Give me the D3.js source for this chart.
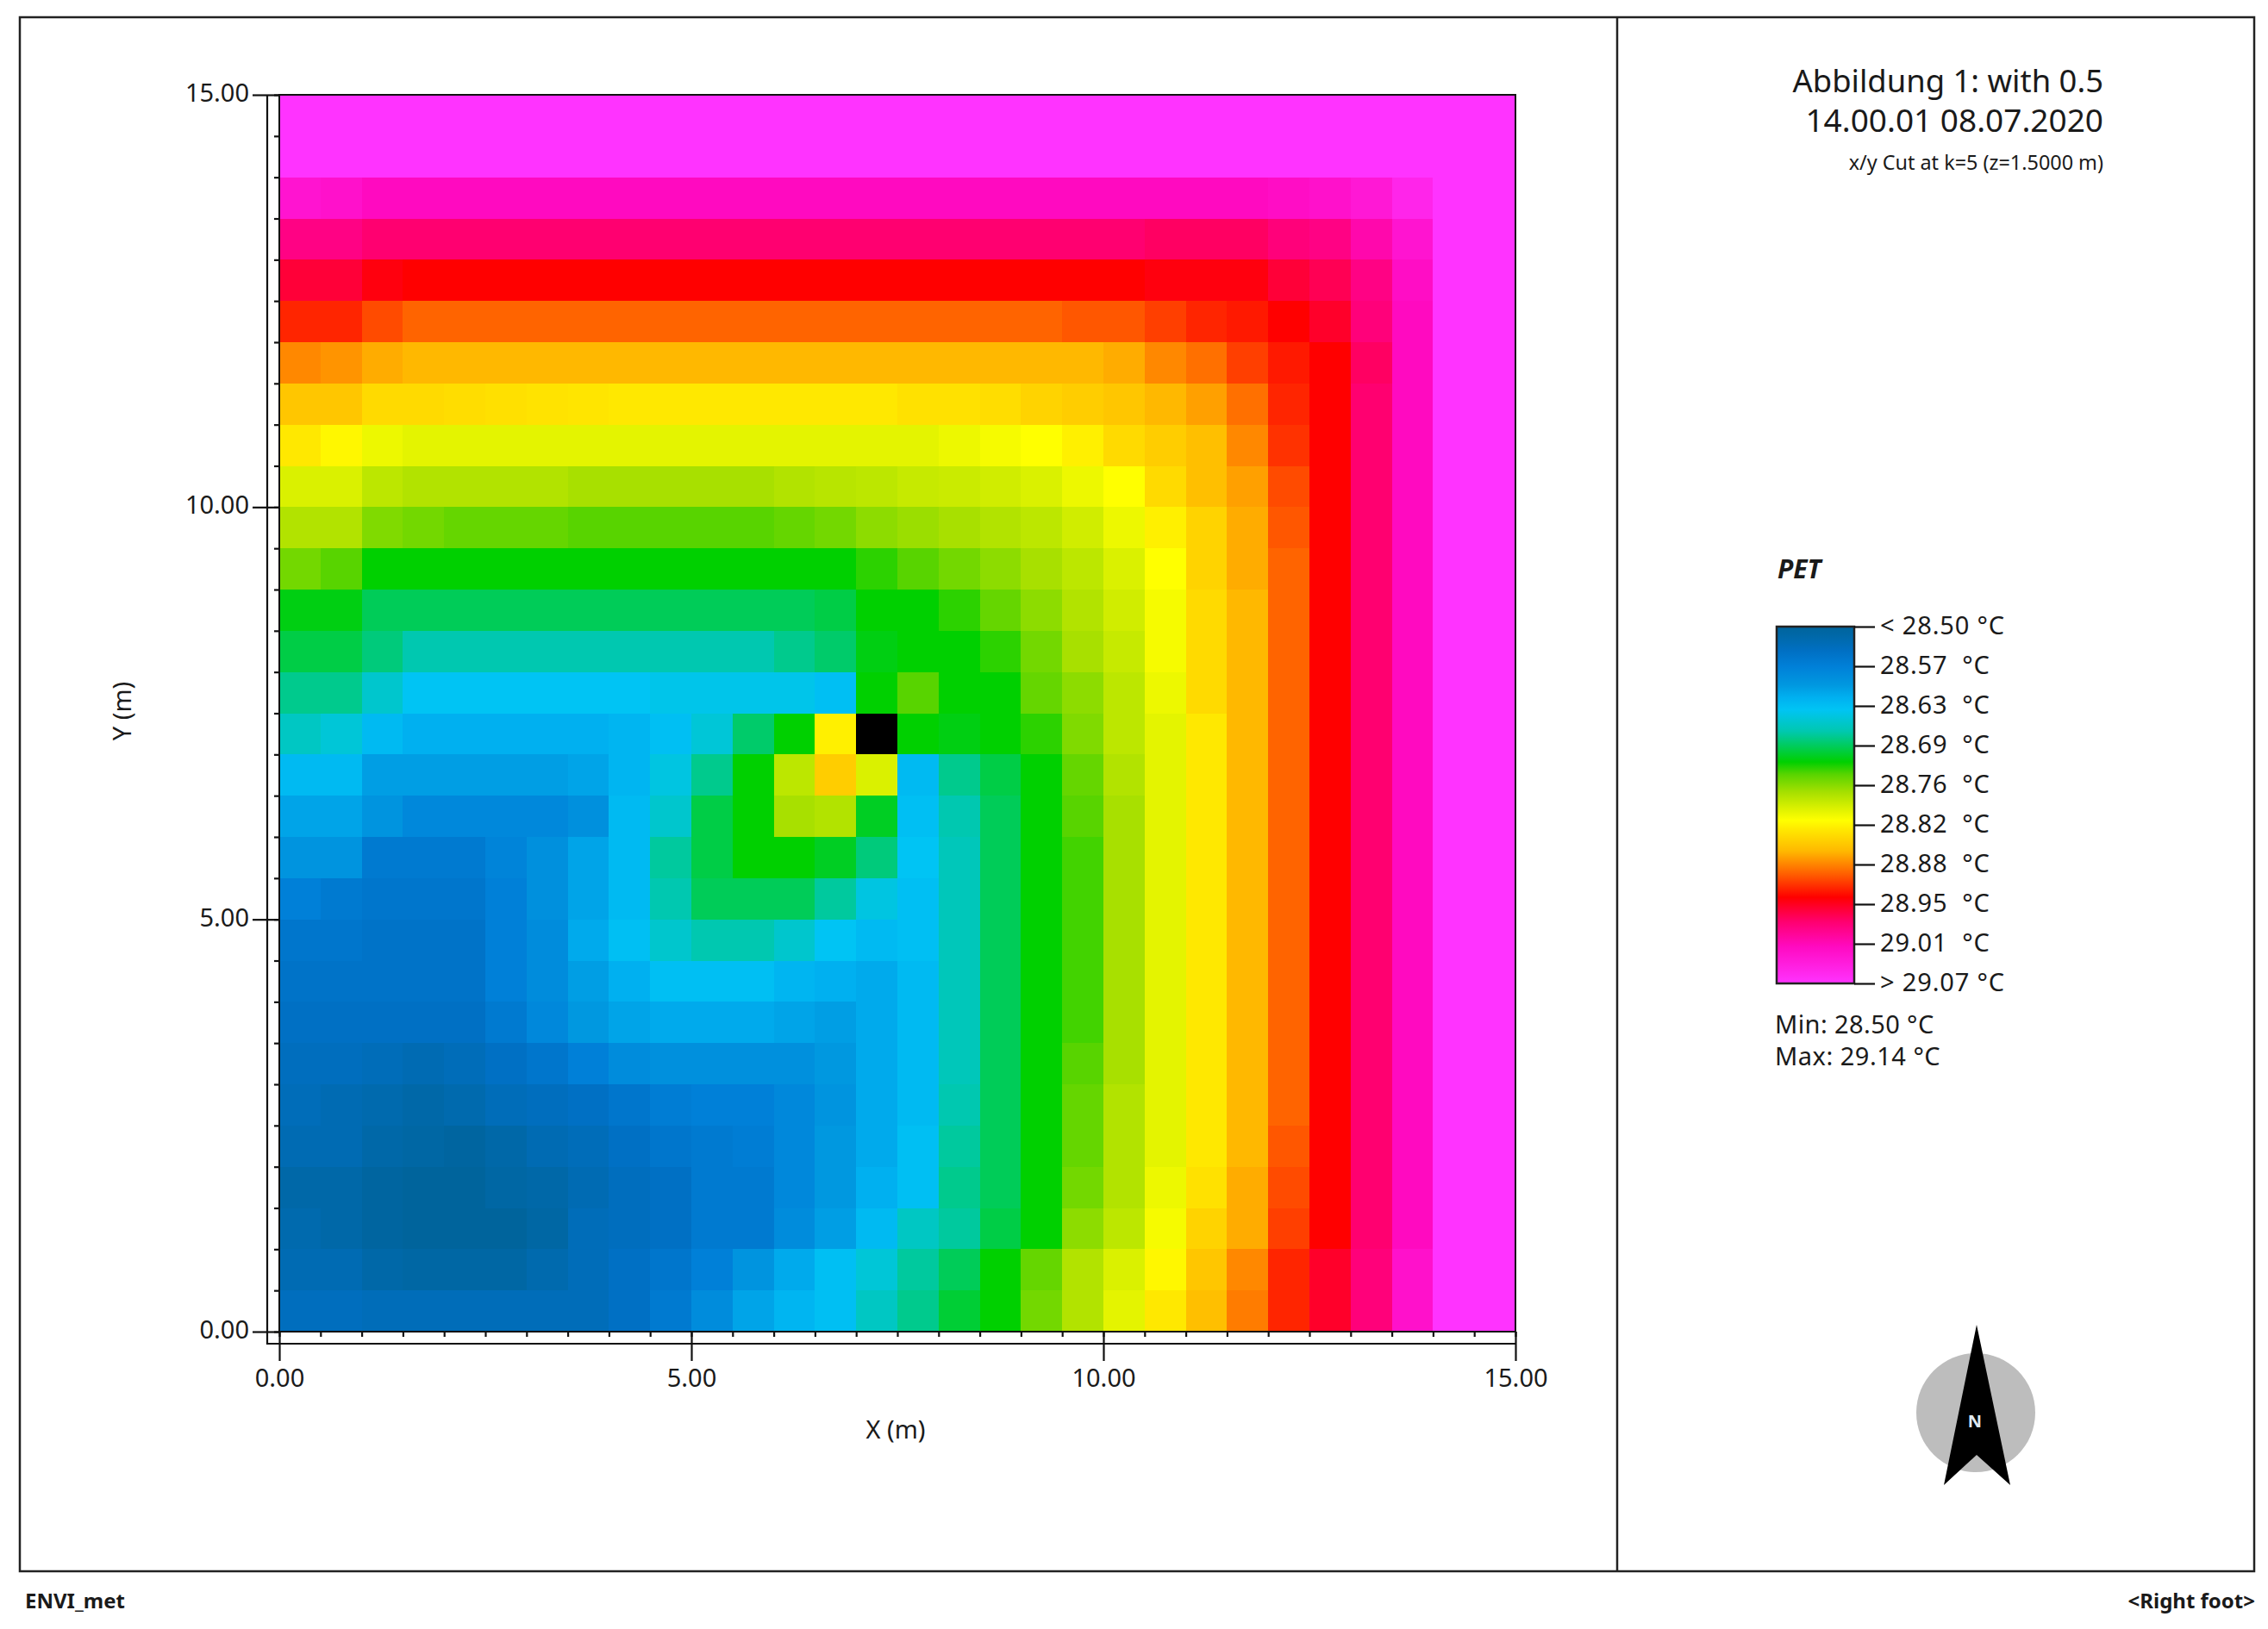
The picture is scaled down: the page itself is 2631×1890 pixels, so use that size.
<!DOCTYPE html>
<html>
<head>
  <title>PET - x/y cut</title>
  <script src="https://d3js.org/d3.v7.min.js"></script>
  <style>
  body { margin: 0; background: #fff; }
  svg { display: block; }
  text { font-family: "Noto Sans", sans-serif; fill: #1a1a1a; }
  </style>
</head>
<body>
  <div id="chart"></div>
  <script>
    // tick labels
    var majorTicks = [0, 5, 10, 15];
    var minorTicks = d3.range(0, 15.01, 0.5);
    var legendLabels = ["< 28.50 °C", "28.57  °C", "28.63  °C", "28.69  °C", "28.76  °C",
                        "28.82  °C", "28.88  °C", "28.95  °C", "29.01  °C", "> 29.07 °C"];

    // colour ramp of the legend
    var rampValues = [28.50, 28.515, 28.54, 28.565, 28.595, 28.615, 28.635, 28.67, 28.695, 28.72,
                      28.74, 28.77, 28.80, 28.815, 28.83, 28.865, 28.90, 28.94, 28.98, 29.02, 29.08];
    var rampColors = ["#00649c", "#0068a8", "#0070c4", "#0080d8", "#0098e0", "#00b0f0", "#00c4f4",
                      "#00c8b0", "#00cc58", "#00d000", "#58d400", "#a8e000", "#e4f400", "#ffff00",
                      "#ffe800", "#ffb800", "#ff6400", "#ff0000", "#ff0070", "#ff0ac0", "#ff33ff"];

    // PET per cell, top row (y = 15) first, left column first; null = no value (black cell)
    var pet = [
      [29.08,29.08,29.08,29.08,29.08, 29.08,29.08,29.08,29.08,29.08, 29.08,29.08,29.08,29.08,29.08, 29.08,29.08,29.08,29.08,29.08, 29.08,29.08,29.08,29.08,29.08, 29.08,29.08,29.08,29.08,29.08],
      [29.08,29.08,29.08,29.08,29.08, 29.08,29.08,29.08,29.08,29.08, 29.08,29.08,29.08,29.08,29.08, 29.08,29.08,29.08,29.08,29.08, 29.08,29.08,29.08,29.08,29.08, 29.08,29.08,29.08,29.08,29.08],
      [29.035,29.03,29.02,29.02,29.02, 29.02,29.02,29.02,29.02,29.02, 29.02,29.02,29.02,29.02,29.02, 29.02,29.02,29.02,29.02,29.02, 29.02,29.02,29.02,29.02,29.025, 29.03,29.04,29.06,29.08,29.08],
      [28.99,28.99,28.98,28.98,28.98, 28.98,28.98,28.98,28.98,28.98, 28.98,28.98,28.98,28.98,28.98, 28.98,28.98,28.98,28.98,28.98, 28.98,28.975,28.975,28.975,28.985, 28.99,29.01,29.035,29.08,29.08],
      [28.96,28.96,28.945,28.94,28.94, 28.94,28.94,28.94,28.94,28.94, 28.94,28.94,28.94,28.94,28.94, 28.94,28.94,28.94,28.94,28.94, 28.94,28.945,28.945,28.945,28.96, 28.97,28.99,29.025,29.08,29.08],
      [28.925,28.925,28.91,28.90,28.90, 28.90,28.90,28.90,28.90,28.90, 28.90,28.90,28.90,28.90,28.90, 28.90,28.90,28.90,28.90,28.905, 28.905,28.915,28.925,28.93,28.94, 28.955,28.985,29.02,29.08,29.08],
      [28.885,28.88,28.87,28.865,28.865, 28.865,28.865,28.865,28.865,28.865, 28.865,28.865,28.865,28.865,28.865, 28.865,28.865,28.865,28.865,28.865, 28.87,28.885,28.895,28.915,28.93, 28.94,28.975,29.02,29.08,29.08],
      [28.855,28.855,28.84,28.84,28.838, 28.836,28.834,28.832,28.83,28.83, 28.83,28.83,28.83,28.83,28.83, 28.835,28.835,28.838,28.845,28.85, 28.855,28.865,28.875,28.895,28.925, 28.94,28.98,29.02,29.08,29.08],
      [28.83,28.82,28.805,28.80,28.80, 28.80,28.80,28.80,28.80,28.80, 28.80,28.80,28.80,28.80,28.80, 28.80,28.805,28.81,28.815,28.825, 28.84,28.85,28.86,28.885,28.92, 28.94,28.98,29.02,29.08,29.08],
      [28.795,28.795,28.78,28.775,28.775, 28.775,28.775,28.77,28.77,28.77, 28.77,28.77,28.775,28.778,28.78, 28.785,28.787,28.79,28.795,28.805, 28.815,28.84,28.86,28.875,28.91, 28.94,28.98,29.02,29.08,29.08],
      [28.775,28.775,28.755,28.75,28.745, 28.745,28.745,28.74,28.74,28.74, 28.74,28.74,28.745,28.75,28.76, 28.765,28.77,28.775,28.78,28.79, 28.805,28.825,28.845,28.87,28.905, 28.94,28.98,29.02,29.08,29.08],
      [28.75,28.74,28.72,28.72,28.72, 28.72,28.72,28.72,28.72,28.72, 28.72,28.72,28.72,28.72,28.73, 28.74,28.75,28.76,28.77,28.78, 28.795,28.815,28.845,28.87,28.90, 28.94,28.98,29.02,29.08,29.08],
      [28.715,28.715,28.695,28.695,28.695, 28.695,28.695,28.695,28.695,28.695, 28.695,28.695,28.695,28.70,28.72, 28.72,28.73,28.745,28.76,28.775, 28.79,28.81,28.84,28.865,28.90, 28.94,28.98,29.02,29.08,29.08],
      [28.70,28.70,28.685,28.67,28.67, 28.67,28.67,28.67,28.67,28.67, 28.67,28.67,28.68,28.69,28.715, 28.72,28.72,28.73,28.75,28.77, 28.785,28.81,28.84,28.865,28.90, 28.94,28.98,29.02,29.08,29.08],
      [28.68,28.68,28.655,28.635,28.635, 28.635,28.635,28.635,28.635,28.64, 28.64,28.64,28.64,28.63,28.72, 28.74,28.72,28.72,28.745,28.76, 28.78,28.805,28.84,28.865,28.90, 28.94,28.98,29.02,29.08,29.08],
      [28.66,28.65,28.625,28.615,28.615, 28.615,28.615,28.615,28.62,28.63, 28.65,28.69,28.72,28.825,null, 28.72,28.715,28.72,28.73,28.755, 28.78,28.80,28.83,28.865,28.90, 28.94,28.98,29.02,29.08,29.08],
      [28.625,28.625,28.60,28.60,28.60, 28.60,28.60,28.605,28.62,28.645, 28.68,28.72,28.78,28.85,28.795, 28.625,28.68,28.70,28.72,28.745, 28.775,28.80,28.83,28.865,28.90, 28.94,28.98,29.02,29.08,29.08],
      [28.605,28.605,28.59,28.575,28.575, 28.575,28.575,28.585,28.625,28.655, 28.70,28.72,28.77,28.775,28.71, 28.63,28.67,28.695,28.72,28.74, 28.77,28.80,28.83,28.865,28.90, 28.94,28.98,29.02,29.08,29.08],
      [28.59,28.59,28.555,28.555,28.555, 28.57,28.585,28.605,28.625,28.675, 28.70,28.72,28.72,28.71,28.685, 28.635,28.665,28.695,28.72,28.735, 28.77,28.80,28.83,28.865,28.90, 28.94,28.98,29.02,29.08,29.08],
      [28.565,28.555,28.55,28.55,28.55, 28.565,28.585,28.605,28.625,28.67, 28.695,28.695,28.695,28.675,28.645, 28.63,28.665,28.695,28.72,28.735, 28.77,28.80,28.83,28.865,28.90, 28.94,28.98,29.02,29.08,29.08],
      [28.55,28.55,28.545,28.545,28.545, 28.565,28.58,28.61,28.63,28.655, 28.67,28.67,28.655,28.635,28.625, 28.63,28.665,28.695,28.72,28.735, 28.77,28.80,28.83,28.865,28.90, 28.94,28.98,29.02,29.08,29.08],
      [28.545,28.545,28.545,28.545,28.545, 28.565,28.58,28.60,28.615,28.63, 28.63,28.63,28.62,28.615,28.61, 28.625,28.665,28.695,28.72,28.735, 28.77,28.80,28.83,28.865,28.90, 28.94,28.98,29.02,29.08,29.08],
      [28.54,28.54,28.54,28.54,28.54, 28.555,28.575,28.595,28.605,28.61, 28.61,28.61,28.605,28.60,28.61, 28.625,28.665,28.695,28.72,28.735, 28.77,28.80,28.83,28.865,28.90, 28.94,28.98,29.02,29.08,29.08],
      [28.535,28.535,28.53,28.525,28.53, 28.54,28.55,28.565,28.58,28.585, 28.585,28.585,28.585,28.595,28.61, 28.625,28.665,28.695,28.72,28.74, 28.77,28.80,28.83,28.865,28.90, 28.94,28.98,29.02,29.08,29.08],
      [28.53,28.525,28.52,28.515,28.52, 28.53,28.535,28.54,28.55,28.56, 28.565,28.565,28.575,28.59,28.61, 28.625,28.67,28.695,28.72,28.745, 28.775,28.80,28.83,28.865,28.90, 28.94,28.98,29.02,29.08,29.08],
      [28.525,28.525,28.515,28.51,28.505, 28.515,28.525,28.53,28.54,28.55, 28.555,28.56,28.575,28.595,28.61, 28.63,28.675,28.695,28.72,28.745, 28.775,28.80,28.83,28.865,28.905, 28.94,28.98,29.02,29.08,29.08],
      [28.515,28.515,28.505,28.50,28.50, 28.51,28.515,28.525,28.535,28.54, 28.555,28.555,28.575,28.595,28.615, 28.63,28.68,28.695,28.72,28.75, 28.775,28.805,28.835,28.87,28.91, 28.94,28.98,29.02,29.08,29.08],
      [28.52,28.515,28.505,28.50,28.50, 28.50,28.51,28.53,28.535,28.54, 28.555,28.555,28.58,28.60,28.625, 28.66,28.675,28.70,28.72,28.76, 28.78,28.81,28.845,28.87,28.915, 28.94,28.98,29.02,29.08,29.08],
      [28.525,28.525,28.515,28.51,28.51, 28.51,28.52,28.53,28.54,28.55, 28.565,28.59,28.61,28.63,28.65, 28.675,28.695,28.72,28.745,28.775, 28.795,28.82,28.855,28.885,28.925, 28.955,28.985,29.03,29.08,29.08],
      [28.535,28.535,28.53,28.53,28.53, 28.53,28.53,28.53,28.54,28.555, 28.58,28.605,28.62,28.63,28.66, 28.68,28.705,28.72,28.75,28.775, 28.80,28.83,28.86,28.89,28.925, 28.955,28.985,29.03,29.08,29.08]
    ];

    var svg = d3.select("#chart").append("svg")
      .attr("width", 2631)
      .attr("height", 1890);

    // page frame
    svg.append("rect").attr("x", 23).attr("y", 20).attr("width", 2592).attr("height", 1803)
      .attr("fill", "none").attr("stroke", "#222").attr("stroke-width", 2.5);
    svg.append("line").attr("x1", 1876).attr("x2", 1876).attr("y1", 20).attr("y2", 1823)
      .attr("stroke", "#222").attr("stroke-width", 2.5);

    var x = d3.scaleLinear().domain([0, 15]).range([324, 1758]);
    var y = d3.scaleLinear().domain([0, 15]).range([1545, 110]);
    var color = d3.scaleLinear().domain(rampValues).range(rampColors).clamp(true);

    // cells
    var cellSize = 0.5;
    svg.append("g").attr("shape-rendering", "crispEdges")
      .selectAll("g")
      .data(pet)
      .enter().append("g")
      .selectAll("rect")
      .data(function(row, r) {
        return row.map(function(v, c) { return { v: v, r: r, c: c }; });
      })
      .enter().append("rect")
      .attr("x", function(d) { return x(d.c * cellSize); })
      .attr("y", function(d) { return y(15 - d.r * cellSize); })
      .attr("width", x(cellSize) - x(0) + 0.5)
      .attr("height", y(0) - y(cellSize) + 0.5)
      .attr("fill", function(d) { return d.v === null ? "#000" : color(d.v); });

    svg.append("rect").attr("x", x(0)).attr("y", y(15))
      .attr("width", x(15) - x(0)).attr("height", y(0) - y(15))
      .attr("fill", "none").attr("stroke", "#111").attr("stroke-width", 2);

    // axes: minor ticks next to the plot, long ticks crossing the offset axis line
    function styleAxis(g) {
      g.select(".domain").remove();
      g.selectAll("line").attr("stroke", "#111").attr("stroke-width", 2.2);
    }
    var tickFormat = d3.format(".2f");

    svg.append("g").attr("transform", "translate(" + x(0) + ",0)")
      .call(d3.axisLeft(y).tickValues(minorTicks).tickSize(6).tickFormat(""))
      .call(styleAxis);
    svg.append("g").attr("transform", "translate(0," + y(0) + ")")
      .call(d3.axisBottom(x).tickValues(minorTicks).tickSize(6).tickFormat(""))
      .call(styleAxis);

    var yAxis = svg.append("g").attr("transform", "translate(" + x(0) + ",0)")
      .call(d3.axisLeft(y).tickValues(majorTicks).tickSize(31).tickPadding(4).tickFormat(tickFormat))
      .call(styleAxis);
    yAxis.selectAll("text").attr("font-size", 29).attr("dy", "0.26em");

    var xAxis = svg.append("g").attr("transform", "translate(0," + y(0) + ")")
      .call(d3.axisBottom(x).tickValues(majorTicks).tickSize(34).tickPadding(9).tickFormat(tickFormat))
      .call(styleAxis);
    xAxis.selectAll("text").attr("font-size", 29);

    // offset axis lines
    svg.append("path")
      .attr("d", d3.line()([[x(0) - 14, y(15)], [x(0) - 14, y(0) + 14], [x(15), y(0) + 14]]))
      .attr("fill", "none").attr("stroke", "#111").attr("stroke-width", 2.2);

    svg.append("text").attr("x", 1039).attr("y", 1669).attr("text-anchor", "middle")
      .attr("font-size", 29).text("X (m)");
    svg.append("text").attr("transform", "translate(152,825) rotate(-90)").attr("text-anchor", "middle")
      .attr("font-size", 29).text("Y (m)");

    // title block
    var titleLines = [
      { text: "Abbildung 1: with 0.5", y: 107, size: 36.4 },
      { text: "14.00.01 08.07.2020", y: 153, size: 37 },
      { text: "x/y Cut at k=5 (z=1.5000 m)", y: 197, size: 23.4 }
    ];
    svg.selectAll(".title").data(titleLines).enter().append("text")
      .attr("class", "title")
      .attr("x", 2440)
      .attr("y", function(d) { return d.y; })
      .attr("text-anchor", "end")
      .attr("font-size", function(d) { return d.size; })
      .text(function(d) { return d.text; });

    // legend
    svg.append("text").attr("x", 2062).attr("y", 671).attr("font-size", 30)
      .attr("font-weight", "bold").attr("font-style", "italic").text("PET");

    var gradient = svg.append("defs").append("linearGradient").attr("id", "ramp")
      .attr("x1", 0).attr("x2", 0).attr("y1", 0).attr("y2", 1);
    var rampPos = d3.scaleLinear().domain([28.50, 29.08]).range([0, 100]);
    gradient.selectAll("stop").data(rampValues).enter().append("stop")
      .attr("offset", function(d) { return rampPos(d) + "%"; })
      .attr("stop-color", function(d) { return color(d); });

    var legendY = d3.scalePoint().domain(legendLabels).range([727, 1141]);
    svg.append("rect").attr("x", 2061).attr("y", 727).attr("width", 90).attr("height", 414)
      .attr("fill", "url(#ramp)").attr("stroke", "#222").attr("stroke-width", 2.5);

    var legendAxis = svg.append("g").attr("transform", "translate(2151,0)")
      .call(d3.axisRight(legendY).tickSize(24).tickPadding(6))
      .call(styleAxis);
    legendAxis.selectAll("text").attr("font-size", 29).attr("dy", "0.3em")
      .style("letter-spacing", "0.85px")
      .style("white-space", "pre").attr("xml:space", "preserve");

    svg.append("text").attr("x", 2059).attr("y", 1199).attr("font-size", 29)
      .style("letter-spacing", "0.4px").text("Min: 28.50 °C");
    svg.append("text").attr("x", 2059).attr("y", 1236).attr("font-size", 29)
      .style("letter-spacing", "0.5px").text("Max: 29.14 °C");

    // north arrow
    svg.append("circle").attr("cx", 2292).attr("cy", 1639).attr("r", 69).attr("fill", "#bdbdbd");
    svg.append("path").attr("d", "M2293,1537L2332,1723L2293,1688L2255,1723Z").attr("fill", "#000");
    svg.append("text").attr("x", 2291).attr("y", 1656).attr("text-anchor", "middle")
      .attr("font-size", 20).attr("font-weight", "bold").style("fill", "#dfe8f0").text("N");

    // footer
    svg.append("text").attr("x", 29).attr("y", 1866).attr("font-size", 24)
      .attr("font-weight", "bold").text("ENVI_met");
    svg.append("text").attr("x", 2616).attr("y", 1866).attr("text-anchor", "end").attr("font-size", 24)
      .attr("font-weight", "bold").text("<Right foot>");
  </script>
</body>
</html>
